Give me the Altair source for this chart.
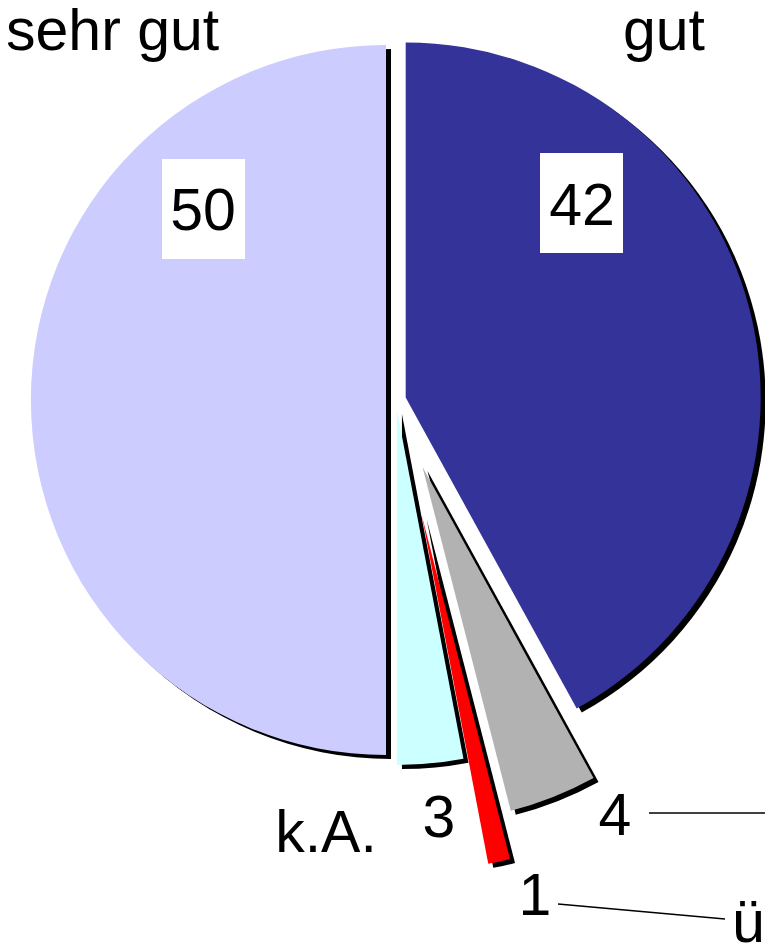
import math
import altair as alt
import pandas as pd

# ---- data ----
categories = ["gut", "weniger gut", "überhaupt nicht gut", "k.A.", "sehr gut"]
values = [42, 4, 1, 3, 50]
value_labels = ["42", "4", "1", "3", "50"]

# ---- style ----
colors = ["#333399", "#B2B2B2", "#FF0000", "#CCFFFF", "#CCCCFF"]
explode = [10, 72, 118, 10, 10]
W, H = 757, 936
CX, CY, R = 388, 392, 355
SHX, SHY = 5, 4
FONT = "Liberation Sans"
FS = 59

total = sum(values)
df = pd.DataFrame({
    "cat": categories,
    "value": values,
    "order": list(range(len(values))),
    "explode": explode,
})

base = alt.Chart(df).transform_window(
    cum="sum(value)", sort=[alt.SortField("order")], frame=[None, 0]
).transform_calculate(
    start="datum.cum - datum.value",
    mid=f"(datum.cum - datum.value / 2) / {total} * 2 * PI",
    px=f"{CX} + datum.explode * sin(datum.mid)",
    py=f"{CY} - datum.explode * cos(datum.mid)",
    sx=f"datum.px + {SHX}",
    sy=f"datum.py + {SHY}",
)

theta = alt.Theta("start:Q", scale=alt.Scale(domain=[0, total], range=[0, 2 * math.pi]))

shadow = base.mark_arc(outerRadius=R, color="black").encode(
    theta=theta,
    theta2="cum:Q",
    x=alt.X("sx:Q", scale=None, axis=None),
    y=alt.Y("sy:Q", scale=None, axis=None),
)

slices = base.mark_arc(outerRadius=R).encode(
    theta=theta,
    theta2="cum:Q",
    x=alt.X("px:Q", scale=None, axis=None),
    y=alt.Y("py:Q", scale=None, axis=None),
    color=alt.Color("cat:N", scale=alt.Scale(domain=categories, range=colors), legend=None),
)

# ---- label layout (positions are layout, not data) ----
boxes = pd.DataFrame({
    "x": [154, 532], "x2": [237, 615], "y": [151, 145], "y2": [251, 245],
})
box_layer = alt.Chart(boxes).mark_rect(color="white").encode(
    x=alt.X("x:Q", scale=None, axis=None), x2="x2:Q",
    y=alt.Y("y:Q", scale=None, axis=None), y2="y2:Q",
)

lines = pd.DataFrame({
    "x": [641, 550], "x2": [775, 717], "y": [805, 896], "y2": [805, 911],
})
line_layer = alt.Chart(lines).mark_rule(color="black", strokeWidth=1.5).encode(
    x=alt.X("x:Q", scale=None, axis=None), x2="x2:Q",
    y=alt.Y("y:Q", scale=None, axis=None), y2="y2:Q",
)

label_pos = {
    "50": (195, 222, "center"),
    "42": (574, 217, "center"),
    "4": (607, 827, "center"),
    "1": (527, 907, "center"),
    "3": (431, 829, "center"),
}
cat_pos = {
    "sehr gut": (-2, 42, "left"),
    "gut": (656, 42, "center"),
    "k.A.": (318, 844, "center"),
    "überhaupt nicht gut": (724, 934, "left"),
}
rows = []
for lab in value_labels:
    x, y, a = label_pos[lab]
    rows.append({"text": lab, "x": x, "y": y, "align": a})
for c in categories:
    if c in cat_pos:
        x, y, a = cat_pos[c]
        rows.append({"text": c, "x": x, "y": y, "align": a})
labels = pd.DataFrame(rows)

text_layers = []
for a in ["left", "center"]:
    text_layers.append(
        alt.Chart(labels[labels["align"] == a]).mark_text(
            font=FONT, fontSize=FS, color="black", align=a, baseline="alphabetic"
        ).encode(
            x=alt.X("x:Q", scale=None, axis=None),
            y=alt.Y("y:Q", scale=None, axis=None),
            text="text:N",
        )
    )

chart = alt.layer(shadow, slices, box_layer, line_layer, *text_layers).properties(
    width=W, height=H, padding=0, autosize=alt.AutoSizeParams(type="none")
).configure_view(stroke=None)

chart.save("out.html", embed_options={"renderer": "svg", "actions": False})
